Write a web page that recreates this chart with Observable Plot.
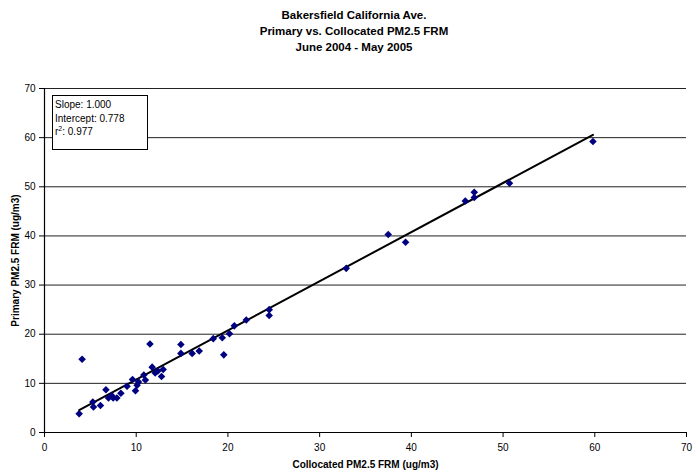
<!DOCTYPE html>
<html>
<head>
<meta charset="utf-8">
<script src="https://cdn.jsdelivr.net/npm/d3@7"></script>
<script src="https://cdn.jsdelivr.net/npm/@observablehq/plot@0.6"></script>
<style>
  html, body { margin: 0; padding: 0; background: #fff; }
  #wrap { position: relative; width: 699px; height: 472px; font-family: "Liberation Sans", Arial, sans-serif; }
  #title { position: absolute; left: 0; top: 7px; width: 708px; text-align: center; font-weight: bold; font-size: 11.5px; line-height: 16px; color: #000; }
  #stats { position: absolute; left: 52px; top: 95px; width: 96px; height: 55px; border: 1px solid #000; background: #fff; font-size: 10px; line-height: 13.5px; padding: 2px 0 0 2px; box-sizing: border-box; color: #000; }
  #stats sup { font-size: 7px; line-height: 0; vertical-align: 4px; }
  svg [aria-label="y-axis label"] text, svg [aria-label="x-axis label"] text { font-weight: bold; }
</style>
</head>
<body>
<div id="wrap">
  <div id="chart"></div>
  <div id="title"></div>
  <div id="stats"></div>
</div>
<script>
const titleLines = ["Bakersfield California Ave.", "Primary vs. Collocated PM2.5 FRM", "June 2004 - May 2005"];
const xLabel = "Collocated PM2.5 FRM (ug/m3)";
const yLabel = "Primary PM2.5 FRM (ug/m3)";
const ticks = [0, 10, 20, 30, 40, 50, 60, 70];
const slope = 1.000;
const intercept = 0.778;
const r2 = 0.977;

const collocated = [3.78, 4.1, 5.27, 5.34, 6.1, 6.7, 6.98, 7.34, 7.49, 7.89, 8.33, 9.0, 9.6, 9.92, 10.1, 10.25, 10.83, 11.0, 11.5, 11.74, 12.07, 12.36, 12.76, 12.94, 14.87, 14.87, 16.1, 16.87, 18.4, 19.38, 19.55, 20.17, 20.7, 22.0, 24.5, 24.5, 32.9, 37.48, 39.37, 45.88, 46.86, 46.86, 50.7, 59.8];
const primary    = [3.8, 14.9, 6.2, 5.2, 5.5, 8.7, 7.0, 7.5, 7.0, 7.0, 8.0, 9.4, 10.8, 8.5, 9.6, 10.3, 11.7, 10.7, 18.0, 13.3, 12.1, 12.5, 11.4, 12.8, 17.9, 16.1, 16.1, 16.6, 19.1, 19.3, 15.8, 20.1, 21.7, 22.9, 25.0, 23.8, 33.4, 40.3, 38.7, 47.1, 48.9, 47.8, 50.7, 59.2];

const points = collocated.map((x, i) => ({x, y: primary[i]}));
const [xmin, xmax] = d3.extent(collocated);
const trend = [xmin, xmax].map(x => ({x, y: slope * x + intercept}));

document.getElementById("title").innerHTML = titleLines.map(t => `<div>${t}</div>`).join("");
document.getElementById("stats").innerHTML =
  `<div>Slope: ${slope.toFixed(3)}</div><div>Intercept: ${intercept.toFixed(3)}</div><div>r<sup>2</sup>: ${r2.toFixed(3)}</div>`;

const chart = Plot.plot({
  width: 699,
  height: 472,
  marginLeft: 44,
  marginRight: 13,
  marginTop: 88,
  marginBottom: 40,
  style: { fontFamily: "Liberation Sans, Arial, sans-serif", fontSize: "10px", color: "#000", background: "#fff" },
  x: { domain: [0, 70] },
  y: { domain: [0, 70] },
  marks: [
    Plot.ruleY(ticks.filter(t => t > 0), { stroke: "#222", strokeWidth: 1 }),
    Plot.ruleY([0], { stroke: "#000", strokeWidth: 1.2 }),
    Plot.ruleX([0], { stroke: "#000", strokeWidth: 1.2 }),
    Plot.axisX({ ticks, tickSize: 5, tickPadding: 6, label: xLabel, labelAnchor: "center", labelArrow: "none", labelOffset: 35, tickFormat: d => String(d) }),
    Plot.axisY({ ticks, tickSize: 5, tickPadding: 4, label: yLabel, labelAnchor: "center", labelArrow: "none", labelOffset: 33, tickFormat: d => String(d) }),
    Plot.line(trend, { x: "x", y: "y", stroke: "#000", strokeWidth: 2 }),
    Plot.dot(points, { x: "x", y: "y", symbol: "diamond2", r: 3.4, fill: "#000080", stroke: "none" })
  ]
});
document.getElementById("chart").appendChild(chart);
</script>
</body>
</html>
